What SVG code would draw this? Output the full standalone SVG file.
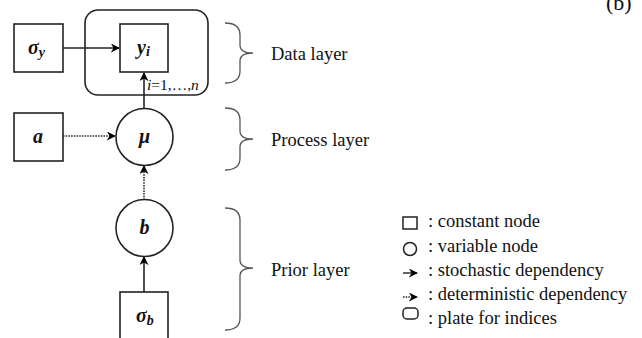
<svg xmlns="http://www.w3.org/2000/svg" width="642" height="338" viewBox="0 0 642 338">
<defs>
<marker id="ah" viewBox="0 0 10 10" refX="9" refY="5" markerWidth="9" markerHeight="9" markerUnits="userSpaceOnUse" orient="auto">
<path d="M0,0 L10,5 L0,10 L3,5 Z" fill="#000"/>
</marker>
<style>
.box{fill:#fff;stroke:#222;stroke-width:1.6}
.ln{fill:none;stroke:#222;stroke-width:1.6}
.dot{fill:none;stroke:#222;stroke-width:1.6;stroke-dasharray:1.5 1.2}
.br{fill:none;stroke:#555;stroke-width:1.3}
.t{font-size:18.5px;fill:#111}
.v{font-size:20px;font-style:italic;font-weight:bold;fill:#111}
.s{font-size:14px}
</style>
</defs>
<rect width="642" height="338" fill="#fff"/>
<g font-family="Liberation Serif, Times New Roman, serif">
<text class="t" x="606" y="10" style="font-size:22px">(b)</text>

<g id="plate"><rect class="box" x="85" y="10" width="123" height="85" rx="13"/>
<text class="t" x="147" y="90" style="font-size:15.5px"><tspan font-style="italic">i</tspan>=1,…,<tspan font-style="italic">n</tspan></text></g>

<g id="connectors">
<path class="ln" d="M63,48 L119,48" marker-end="url(#ah)"/>
<path class="ln" d="M144,109 L144,73" marker-end="url(#ah)"/>
<path class="dot" d="M63,136 L115,136" marker-end="url(#ah)"/>
<path class="dot" d="M144,200 L144,166" marker-end="url(#ah)"/>
<path class="ln" d="M144,292 L144,257" marker-end="url(#ah)"/>
</g>

<g id="sigma_y"><rect class="box" x="14" y="24" width="49" height="48"/><text class="v" x="28" y="54">σ<tspan class="s" dy="3">y</tspan></text></g>
<g id="y_i"><rect class="box" x="120" y="24" width="48" height="48"/><text class="v" x="137" y="54">y<tspan class="s" dy="2">i</tspan></text></g>
<g id="a"><rect class="box" x="14" y="113" width="49" height="48"/><text class="v" x="33" y="143">a</text></g>
<g id="mu"><circle class="box" cx="144.5" cy="137" r="28.5"/><text class="v" x="144.5" y="143" text-anchor="middle">μ</text></g>
<g id="b"><circle class="box" cx="144.5" cy="228" r="28.5"/><text class="v" x="144.5" y="234" text-anchor="middle">b</text></g>
<g id="sigma_b"><rect class="box" x="120" y="292" width="48" height="50"/><text class="v" x="136" y="322">σ<tspan class="s" dy="3">b</tspan></text></g>

<g id="braces">
<path class="br" d="M225,23 Q240,23 240,35 L240,45 Q240,53 253,53 Q240,53 240,61 L240,71 Q240,83 225,83"/>
<path class="br" d="M225,108 Q240,108 240,120 L240,131 Q240,139 253,139 Q240,139 240,147 L240,158 Q240,170 225,170"/>
<path class="br" d="M225,208 Q240,208 240,220 L240,260 Q240,268 253,268 Q240,268 240,276 L240,318 Q240,330 225,330"/>
</g>
<text class="t" x="271" y="60">Data layer</text>
<text class="t" x="271" y="146">Process layer</text>
<text class="t" x="271" y="276">Prior layer</text>

<g id="legend">
<rect class="box" x="403" y="217" width="14" height="12" style="stroke-width:1.5"/>
<circle class="box" cx="410" cy="249" r="6.5" style="stroke-width:1.5"/>
<path class="ln" d="M403,273 L417,273" marker-end="url(#ah)" style="stroke-width:1.4"/>
<path class="dot" d="M403,297 L417,297" marker-end="url(#ah)" style="stroke-width:1.4"/>
<rect class="box" x="403" y="308" width="15" height="11" rx="4" style="stroke-width:1.5"/>
<text class="t" x="428" y="227">: constant node</text>
<text class="t" x="428" y="252">: variable  node</text>
<text class="t" x="428" y="276">: stochastic dependency</text>
<text class="t" x="428" y="300">: deterministic  dependency</text>
<text class="t" x="428" y="324">: plate for indices</text>
</g>
</g>
</svg>
